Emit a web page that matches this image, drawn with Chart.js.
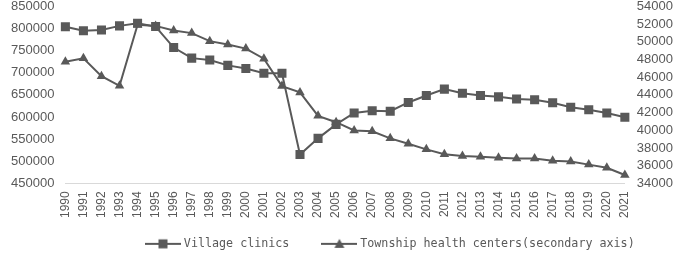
<!DOCTYPE html>
<html>
<head>
<meta charset="utf-8">
<script src="https://cdn.jsdelivr.net/npm/chart.js@4.4.1/dist/chart.umd.min.js"></script>
<style>
  html, body { margin: 0; padding: 0; background: #fff; }
  #wrap { width: 685px; height: 254px; }
</style>
</head>
<body>
<div id="wrap"><canvas id="chart"></canvas></div>
<script>
const years = ['1990','1991','1992','1993','1994','1995','1996','1997','1998','1999','2000','2001','2002','2003','2004','2005','2006','2007','2008','2009','2010','2011','2012','2013','2014','2015','2016','2017','2018','2019','2020','2021'];
const villageClinics = [803956, 795000, 796500, 806000, 812000, 804352, 757000, 733000, 728788, 716677, 709458, 699000, 698966, 514920, 551600, 583209, 609128, 613855, 613143, 632770, 648424, 662894, 653419, 648619, 645470, 640536, 638763, 632057, 622001, 616094, 608828, 599292];
const townshipCenters = [47749, 48140, 46117, 45024, 51929, 51797, 51277, 50981, 50071, 49694, 49229, 48090, 44992, 44279, 41626, 40907, 39975, 39876, 39080, 38475, 37836, 37295, 37097, 37015, 36902, 36817, 36795, 36551, 36461, 36112, 35762, 34943];
const leftTicks = { min: 450000, max: 850000, step: 50000 };
const rightTicks = { min: 34000, max: 54000, step: 2000 };

const ink = '#595959';

// little line+marker swatches for the legend
function swatch(kind) {
  const c = document.createElement('canvas');
  c.width = 36; c.height = 12;
  const g = c.getContext('2d');
  g.strokeStyle = ink; g.lineWidth = 2;
  g.beginPath(); g.moveTo(0, 6); g.lineTo(36, 6); g.stroke();
  g.fillStyle = ink;
  if (kind === 'rect') {
    g.fillRect(13.5, 1.5, 9, 9);
  } else {
    g.beginPath(); g.moveTo(18, 1); g.lineTo(23, 10); g.lineTo(13, 10); g.closePath(); g.fill();
  }
  return c;
}
const swatches = [swatch('rect'), swatch('triangle')];

const legendNudge = {
  id: 'legendNudge',
  beforeDraw(chart) {
    const lg = chart.legend;
    const pad = lg.options.labels.padding;
    const start = (lg.left + pad + lg.right - lg.lineWidths[0]) / 2;
    const dx = 148 - start;
    lg.left += dx; lg.right += dx;
    lg.top -= 23;
  }
};

const plain = v => String(v);
// tick padding also pads the top; let the top label hang over the edge like the original
const noVPad = scale => { scale.paddingTop = 0; scale.paddingBottom = 0; };

new Chart(document.getElementById('chart'), {
  type: 'line',
  data: {
    labels: years,
    datasets: [{
      label: 'Village clinics',
      data: villageClinics,
      yAxisID: 'y',
      borderColor: ink,
      backgroundColor: ink,
      borderWidth: 2,
      pointStyle: 'rect',
      pointRadius: 6.4,
      pointBorderWidth: 0,
      tension: 0
    }, {
      label: 'Township health centers(secondary axis)',
      data: townshipCenters,
      yAxisID: 'y1',
      borderColor: ink,
      backgroundColor: ink,
      borderWidth: 2,
      pointStyle: 'triangle',
      pointRadius: 5.5,
      pointBorderWidth: 0,
      tension: 0
    }]
  },
  options: {
    responsive: true,
    maintainAspectRatio: false,
    animation: false,
    layout: { padding: { top: 3, left: 0, right: 0, bottom: 0 } },
    plugins: {
      tooltip: { enabled: false },
      legend: {
        position: 'bottom',
        maxHeight: 28,
        labels: {
          color: ink,
          font: { family: 'DejaVu Sans Mono', size: 11.7 },
          usePointStyle: true,
          pointStyleWidth: 30,
          padding: 35,
          generateLabels(chart) {
            return chart.data.datasets.map((ds, i) => ({
              text: ds.label,
              pointStyle: swatches[i],
              fontColor: ink,
              lineWidth: 0,
              datasetIndex: i
            }));
          }
        }
      }
    },
    scales: {
      x: {
        grid: { display: false, drawTicks: false },
        border: { display: true, color: '#d9d9d9', width: 1 },
        ticks: {
          color: ink,
          font: { family: 'Liberation Sans', size: 12 },
          minRotation: 90,
          maxRotation: 90,
          autoSkip: false,
          padding: 8
        }
      },
      y: {
        position: 'left',
        min: leftTicks.min,
        max: leftTicks.max,
        grid: { display: false, drawTicks: false },
        border: { display: false },
        afterFit: noVPad,
        ticks: {
          stepSize: leftTicks.step,
          autoSkip: false,
          callback: plain,
          color: ink,
          font: { family: 'Liberation Sans', size: 13 },
          padding: 11
        }
      },
      y1: {
        position: 'right',
        min: rightTicks.min,
        max: rightTicks.max,
        grid: { display: false, drawTicks: false },
        border: { display: false },
        afterFit: noVPad,
        ticks: {
          stepSize: rightTicks.step,
          autoSkip: false,
          callback: plain,
          color: ink,
          font: { family: 'Liberation Sans', size: 13 },
          padding: 12
        }
      }
    }
  },
  plugins: [legendNudge]
});
</script>
</body>
</html>
